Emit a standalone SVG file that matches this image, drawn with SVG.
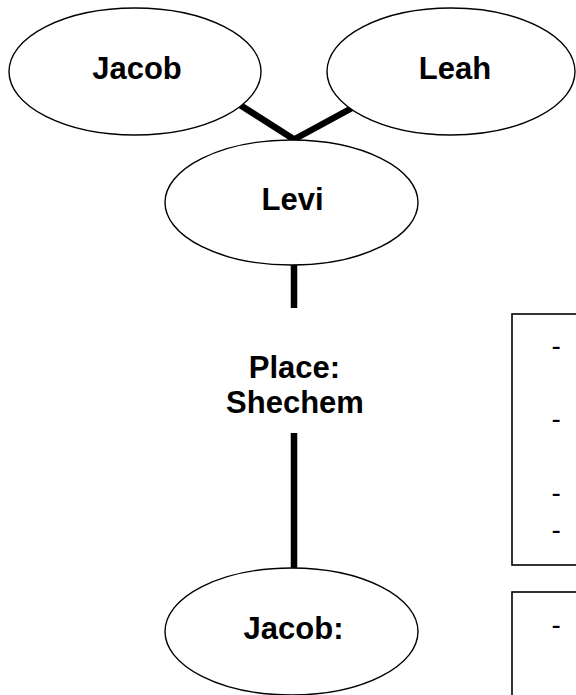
<svg xmlns="http://www.w3.org/2000/svg" width="576" height="695" viewBox="0 0 576 695">
<style>
.node ellipse{fill:#fff;stroke:#000;stroke-width:1.4}
.lbl{font-family:"Liberation Sans",Arial,sans-serif;font-weight:bold;font-size:31px;fill:#000;text-anchor:middle}
.box rect{fill:#fff;stroke:#000;stroke-width:1.6}
.dash{font-family:"Liberation Sans",Arial,sans-serif;font-size:28px;fill:#000}
.conn line{stroke:#000;stroke-width:6.5;stroke-linecap:butt}
</style>
<rect width="576" height="695" fill="#fff"/>
<g id="connectors" class="conn">
<line x1="240" y1="105" x2="295" y2="140"/>
<line x1="352" y1="108" x2="293" y2="140"/>
<line x1="294" y1="265" x2="294" y2="308"/>
<line x1="294" y1="433" x2="294" y2="568"/>
</g>
<g id="jacob" class="node">
<ellipse cx="135" cy="71.5" rx="126" ry="63.5"/>
<text class="lbl" x="137" y="79">Jacob</text>
</g>
<g id="leah" class="node">
<ellipse cx="451" cy="71.5" rx="124" ry="63.5"/>
<text class="lbl" x="455" y="79">Leah</text>
</g>
<g id="levi" class="node">
<ellipse cx="291.5" cy="202.5" rx="126.5" ry="62.5"/>
<text class="lbl" x="292.5" y="210">Levi</text>
</g>
<g id="place">
<text class="lbl" x="294.5" y="378">Place:</text>
<text class="lbl" x="295" y="413">Shechem</text>
</g>
<g id="jacob2" class="node">
<ellipse cx="291.5" cy="631.5" rx="126.5" ry="63.5"/>
<text class="lbl" x="293.5" y="638.5">Jacob:</text>
</g>
<g id="box1" class="box">
<rect x="512" y="314" width="80" height="251"/>
<text class="dash" x="551.5" y="355">-</text>
<text class="dash" x="551.5" y="428">-</text>
<text class="dash" x="551.5" y="502">-</text>
<text class="dash" x="551.5" y="539">-</text>
</g>
<g id="box2" class="box">
<rect x="512" y="592" width="80" height="120"/>
<text class="dash" x="551.5" y="634">-</text>
</g>
</svg>
